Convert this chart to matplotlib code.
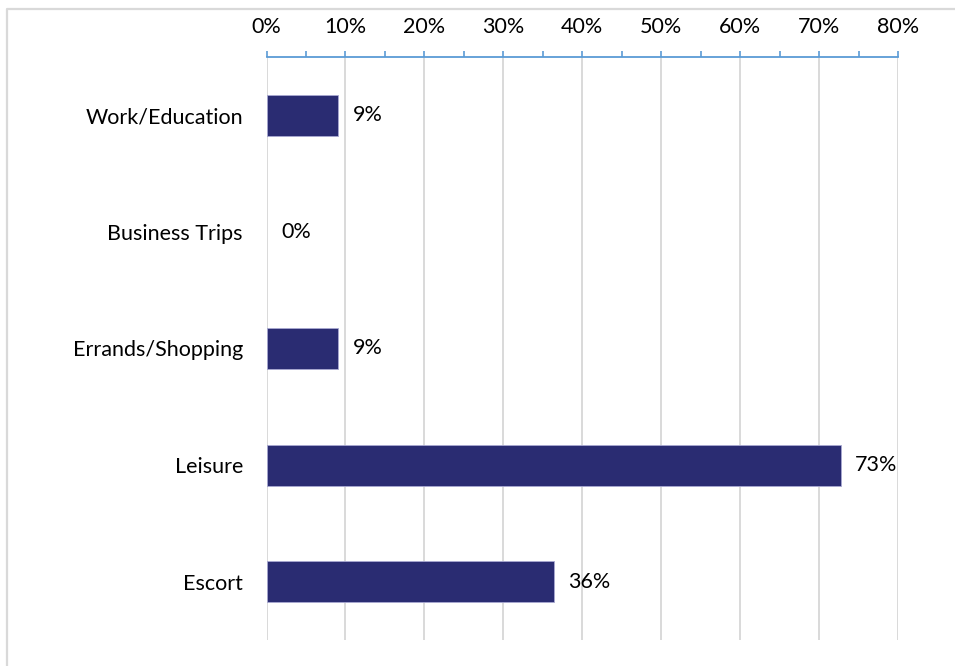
import matplotlib
matplotlib.use("Agg")
import matplotlib.pyplot as plt
from matplotlib.lines import Line2D
from matplotlib.ticker import MultipleLocator, FuncFormatter

plt.rcParams['font.family'] = ['Lato', 'DejaVu Sans']

categories = ["Work/Education", "Business Trips", "Errands/Shopping", "Leisure", "Escort"]
shares = [9.09, 0.0, 9.09, 72.73, 36.36]
x_ticks = [0, 10, 20, 30, 40, 50, 60, 70, 80]

W, H = 955, 666
fig = plt.figure(figsize=(W / 100, H / 100), dpi=100)
ax = fig.add_axes([266.5 / W, 1 - 640 / H, (898 - 266.5) / W, (640 - 57) / H])

bar_color = "#2A2C72"
axis_blue = "#5B9BD5"
grid_gray = "#D9D9D9"

ypos = list(range(len(categories)))
edges = ["#A9A9D2" if v > 0 else "none" for v in shares]
ax.barh(ypos, shares, height=0.35, color=bar_color, edgecolor=edges,
        linewidth=0.6, zorder=3)

for y, v in zip(ypos, shares):
    ax.annotate(f"{v:.0f}%", xy=(v, y), xytext=(10.5, 0), textcoords="offset points",
                va="center", ha="left", fontsize=15.5, color="black", zorder=4)

ax.set_xlim(0, 80)
ax.set_ylim(len(categories) - 0.5, -0.5)
ax.set_yticks(ypos)
ax.set_yticklabels(categories, fontsize=15.5)
ax.set_xticks(x_ticks)
ax.xaxis.set_minor_locator(MultipleLocator(5))
ax.xaxis.set_major_formatter(FuncFormatter(lambda v, p: f"{v:.0f}%"))

ax.xaxis.tick_top()
ax.tick_params(axis="x", which="both", direction="out", length=4, width=1.2,
               color=axis_blue, pad=10.5, labelsize=15.5)
ax.tick_params(axis="y", length=0, pad=17)

for side in ["left", "right", "bottom"]:
    ax.spines[side].set_visible(False)
ax.spines["top"].set_color(axis_blue)
ax.spines["top"].set_linewidth(1.3)

ax.grid(axis="x", which="major", color=grid_gray, linewidth=1.4, zorder=0)
ax.set_axisbelow(True)

# outer chart frame (top and left edges)
fig.add_artist(Line2D([6.5 / W, 6.5 / W, 1.0], [0.0, 1 - 8.5 / H, 1 - 8.5 / H],
                      transform=fig.transFigure, color=grid_gray, linewidth=1.6))

fig.savefig("out.png", dpi=100, facecolor="white")
